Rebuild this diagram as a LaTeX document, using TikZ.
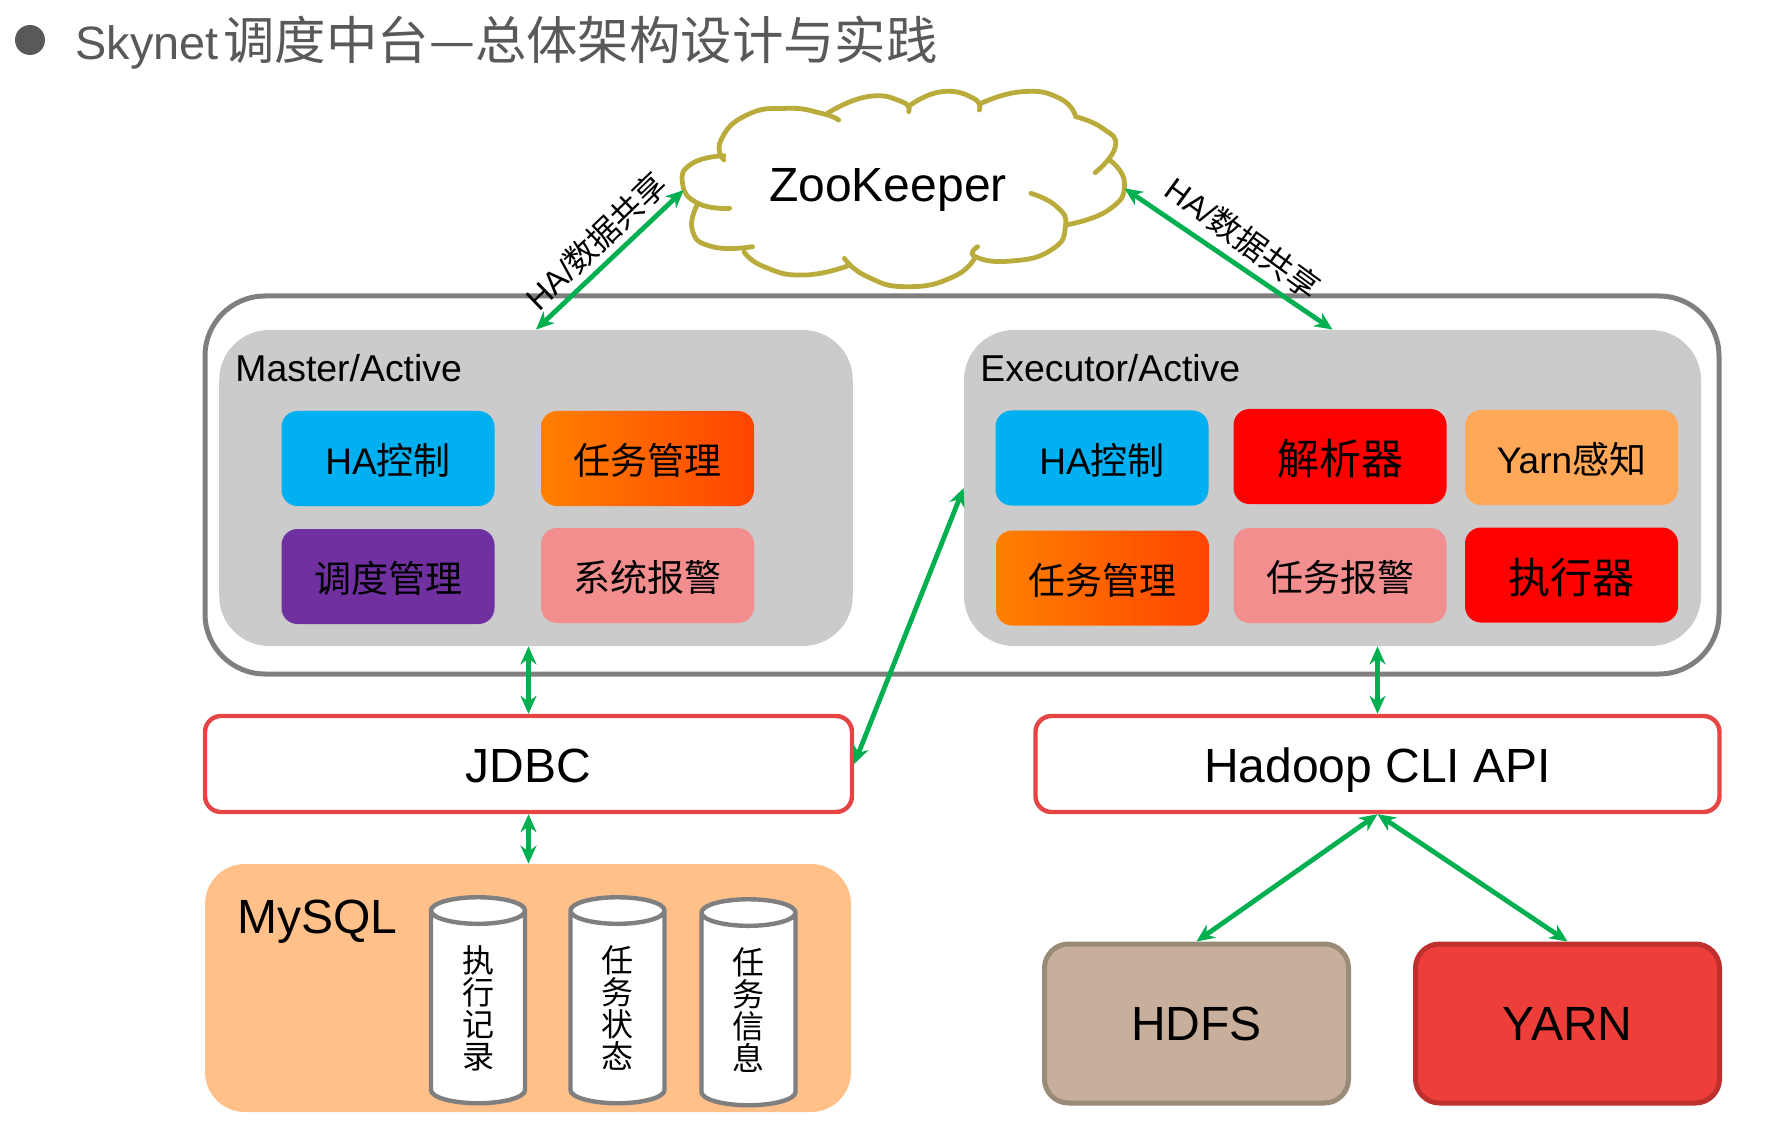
\documentclass[tikz,border=0pt]{standalone}
\usepackage{fontspec}
\setmainfont{Liberation Sans}
\newfontfamily\cjk{Noto Sans CJK SC}
\newcommand{\zh}[1]{{\cjk #1}}
\usetikzlibrary{arrows.meta,shapes.geometric}
\definecolor{linkgreen}{HTML}{00B050}
\definecolor{cloudline}{HTML}{BAAC3C}
\definecolor{panelgray}{HTML}{CBCBCB}
\definecolor{frameline}{HTML}{7F7F7F}
\definecolor{apired}{HTML}{E64545}
\definecolor{peach}{HTML}{FFC08A}
\definecolor{hablue}{HTML}{00B0F0}
\definecolor{yarnorange}{HTML}{FFA857}
\definecolor{alarmpink}{HTML}{F28E8E}
\definecolor{schedpurple}{HTML}{7030A0}
\definecolor{taskleft}{HTML}{FF8000}
\definecolor{taskright}{HTML}{FF4400}
\definecolor{titlegray}{HTML}{595959}
\definecolor{hdfsfill}{HTML}{C8AF9B}
\definecolor{hdfsline}{HTML}{9A8A78}
\definecolor{yarnfill}{HTML}{EE3E3A}
\definecolor{yarnline}{HTML}{BE302E}
\tikzset{
  link/.style={<->,>={Stealth[length=9pt,width=8pt]},draw=linkgreen,line width=2.4pt},
  panel/.style={fill=panelgray,rounded corners=25pt,minimum height=158pt,inner sep=0pt},
  item/.style={rounded corners=8pt,minimum width=106.5pt,minimum height=47.5pt,inner sep=0pt,text height=16.5pt,text depth=.5pt,font=\fontsize{18.5}{22}\selectfont},
  bigitem/.style={item,text height=18.5pt,font=\fontsize{21}{25}\selectfont},
  taskitem/.style={item,left color=taskleft,middle color=taskleft,right color=taskright},
  api/.style={draw=apired,line width=2.2pt,fill=white,rounded corners=8pt,minimum height=48pt,inner sep=0pt,text height=19pt,text depth=.5pt,font=\fontsize{24}{28}\selectfont},
  store/.style={line width=2.5pt,rounded corners=12pt,minimum width=152pt,minimum height=79.5pt,inner sep=0pt,font=\fontsize{24}{28}\selectfont},
  table/.style={cylinder,shape border rotate=90,draw=frameline,line width=2.2pt,fill=white,aspect=.83,minimum width=47pt,minimum height=103pt,inner sep=0pt,align=center,font=\fontsize{16}{16}\selectfont\cjk},
  sharelabel/.style={font=\fontsize{16}{18}\selectfont,inner sep=0pt},
  cloudpart/.style={draw=cloudline,line width=2.4pt,line cap=round}
}
\begin{document}
\begin{tikzpicture}[x=.5pt,y=-.5pt]
  \useasboundingbox (0,0) rectangle (1774,1134);
  \node[circle,fill=titlegray,minimum size=15pt,inner sep=0pt] (bullet) at (30,40) {};
  \node[anchor=base west,inner sep=0pt,text=titlegray,font=\fontsize{25.7}{30}\selectfont] (title) at (75,60)
    {{\fontsize{23.4}{30}\selectfont Skynet}\hspace{2.5pt}\zh{调度中台—总体架构设计与实践}};

  \node[draw=frameline,line width=2.5pt,rounded corners=30pt,minimum width=757pt,minimum height=189pt,inner sep=0pt] (cluster) at (962,485) {};
  \node[panel,minimum width=316.8pt] (master) at (536,488) {};
  \node[panel,minimum width=368.5pt] (executor) at (1332.5,488) {};
  \node[anchor=base west,inner sep=0pt,font=\fontsize{18.7}{22}\selectfont] (masterlabel) at (235,382) {Master/Active};
  \node[anchor=base west,inner sep=0pt,font=\fontsize{18.7}{22}\selectfont] (executorlabel) at (980,382) {Executor/Active};

  % master
  \node[item,fill=hablue] (mha) at (388,458.5) {HA\zh{控制}};
  \node[taskitem] (mtask) at (647.5,458.5) {\zh{任务管理}};
  \node[item,fill=schedpurple] (msched) at (388,576.5) {\zh{调度管理}};
  \node[item,fill=alarmpink] (malarm) at (647.5,575.5) {\zh{系统报警}};

  % executor
  \node[item,fill=hablue] (eha) at (1102,458) {HA\zh{控制}};
  \node[bigitem,fill=red] (eparser) at (1340,456.5) {\zh{解析器}};
  \node[item,fill=yarnorange] (eyarn) at (1571.5,457.5) {Yarn\zh{感知}};
  \node[taskitem] (etask) at (1102.5,578) {\zh{任务管理}};
  \node[item,fill=alarmpink] (ealarm) at (1340,575.5) {\zh{任务报警}};
  \node[bigitem,fill=red] (erun) at (1571.5,575) {\zh{执行器}};

  \node[api,minimum width=323.5pt] (jdbc) at (528.5,764) {JDBC};
  \node[api,minimum width=342pt] (hadoop) at (1377.5,764) {Hadoop CLI API};

  \node[fill=peach,rounded corners=20pt,minimum width=323pt,minimum height=124pt,inner sep=0pt] (mysql) at (528,988) {};
  \node[anchor=base west,inner sep=0pt,font=\fontsize{24}{28}\selectfont] (mysqllabel) at (237,933) {MySQL};
  \node[table] (tbrun) at (478,1008) {执\\行\\记\\录};
  \node[table] (tbstate) at (617.5,1008) {任\\务\\状\\态};
  \node[table] (tbinfo) at (748.5,1010) {任\\务\\信\\息};

  \node[store,draw=hdfsline,fill=hdfsfill] (hdfs) at (1196.5,1023.5) {HDFS};
  \node[store,draw=yarnline,fill=yarnfill] (yarn) at (1567.5,1023.5) {YARN};

  % zookeeper cloud, in its own grid
  \begin{scope}[shift={(500,60)},x=.287pt,y=-.1667pt]
    \draw[cloudpart] plot[smooth,tension=.9] coordinates {(390,300) (385,240) (430,165) (500,145) (560,160) (590,180)};
    \draw[cloudpart] plot[smooth,tension=.9] coordinates {(570,160) (640,110) (700,125) (712,155)};
    \draw[cloudpart] plot[smooth,tension=.9] coordinates {(715,135) (770,95) (825,115) (835,150)};
    \draw[cloudpart] plot[smooth,tension=.9] coordinates {(838,130) (910,95) (975,115) (1003,170)};
    \draw[cloudpart] plot[smooth,tension=.9] coordinates {(1003,170) (1050,205) (1072,260) (1037,338)};
    \draw[cloudpart] plot[smooth,tension=.9] coordinates {(1062,300) (1088,370) (1060,450) (985,495)};
    \draw[cloudpart] plot[smooth,tension=.9] coordinates {(925,400) (970,440) (985,500) (960,570) (890,603) (828,590) (832,560)};
    \draw[cloudpart] plot[smooth,tension=.9] coordinates {(828,590) (790,650) (710,680) (640,650) (600,595)};
    \draw[cloudpart] plot[smooth,tension=.9] coordinates {(610,615) (530,645) (460,620) (425,575)};
    \draw[cloudpart] plot[smooth,tension=.9] coordinates {(440,560) (370,560) (335,510) (345,430)};
    \draw[cloudpart] plot[smooth,tension=.9] coordinates {(400,445) (345,430) (318,370) (335,310) (390,287)};
    \coordinate (zkleft) at (320,390);
    \coordinate (zkright) at (1088,385);
  \end{scope}
  \node[anchor=base,inner sep=0pt,font=\fontsize{24}{28}\selectfont] (zk) at (888,202) {ZooKeeper};

  \draw[link] (zkleft) -- (master.north);
  \draw[link] (zkright) -- (executor.north);
  \draw[link] (jdbc.north) -- (jdbc.north |- master.south);
  \draw[link] (jdbc.south) -- (jdbc.south |- mysql.north);
  \draw[link] (jdbc.east) -- (executor.west);
  \draw[link] (hadoop.north) -- (hadoop.north |- executor.south);
  \draw[link] (hadoop.south) -- (hdfs.north);
  \draw[link] (hadoop.south) -- (yarn.north);

  \node[sharelabel,rotate=44] (shareleft) at (596,241) {HA/\zh{数据共享}};
  \node[sharelabel,rotate=-36] (shareright) at (1243,238) {HA/\zh{数据共享}};
\end{tikzpicture}
\end{document}
